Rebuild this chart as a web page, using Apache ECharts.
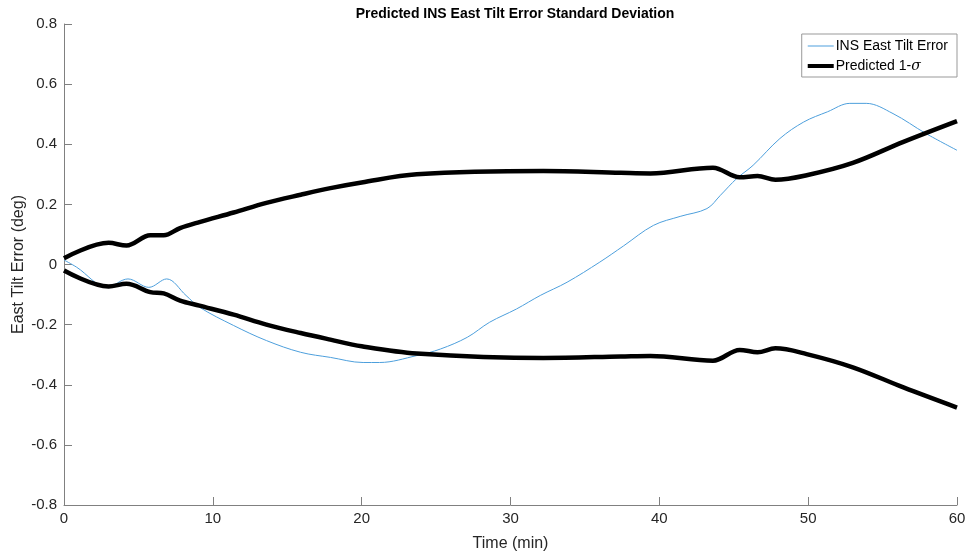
<!DOCTYPE html>
<html>
<head>
<meta charset="utf-8">
<script src="https://cdn.jsdelivr.net/npm/echarts@6/dist/echarts.min.js"></script>
<style>
  html, body { margin: 0; padding: 0; background: #fff; }
  #chart { width: 969px; height: 558px; }
</style>
</head>
<body>
<div id="chart"></div>
<script>
// INS east tilt error (blue)
const errTime = [0, 0.85, 2.9, 4.3, 5.7, 6.9, 8.2, 9.1, 11.4, 13.6, 15.9, 17.9, 20.1, 21.2, 23.7, 25.3, 27.1, 28.6, 30.4, 32.0, 33.8, 36.0, 37.6, 39.6, 41.4, 43.2, 44.1, 45.2, 46.3, 48.1, 49.7, 51.3, 52.8, 53.9, 55.7, 57.9, 60]
const errValues = [0.015, -0.009, -0.075, -0.048, -0.076, -0.048, -0.103, -0.142, -0.203, -0.253, -0.292, -0.309, -0.326, -0.326, -0.303, -0.281, -0.242, -0.192, -0.148, -0.103, -0.059, 0.008, 0.062, 0.13, 0.16, 0.186, 0.23, 0.286, 0.33, 0.419, 0.474, 0.508, 0.536, 0.536, 0.502, 0.436, 0.38]

// predicted 1-sigma bounds (black)
const sigTime = [0, 3.0, 4.2, 5.8, 6.7, 7.8, 9.1, 11.4, 13.6, 15.9, 17.9, 20.0, 23.7, 32.2, 37.4, 39.4, 43.6, 45.4, 46.6, 47.8, 49.9, 53.0, 56.4, 60]
const sigUpper = [0.021, 0.072, 0.063, 0.097, 0.097, 0.121, 0.141, 0.173, 0.205, 0.232, 0.254, 0.273, 0.300, 0.311, 0.305, 0.303, 0.322, 0.290, 0.294, 0.282, 0.297, 0.338, 0.408, 0.477]
const sigLower = [-0.020, -0.073, -0.064, -0.092, -0.096, -0.120, -0.137, -0.167, -0.200, -0.228, -0.250, -0.272, -0.296, -0.311, -0.306, -0.304, -0.320, -0.284, -0.292, -0.279, -0.298, -0.342, -0.409, -0.476]

const xTicks = [0, 10, 20, 30, 40, 50, 60]
const yTicks = [-0.8, -0.6, -0.4, -0.2, 0, 0.2, 0.4, 0.6, 0.8]

const pairs = (xs, ys) => xs.map((x, i) => [x, ys[i]])

const chart = echarts.init(document.getElementById('chart'))

const fontFamily = 'Liberation Sans, Arial, sans-serif'
const axisText = {
  color: '#262626',
  fontSize: 15,
  fontFamily
}

const option = {
  animation: false,
  title: {
    text: 'Predicted INS East Tilt Error Standard Deviation',
    left: 510,
    textAlign: 'center',
    top: 2,
    textStyle: {
      fontSize: 14,
      fontWeight: 'bold',
      color: '#000',
      fontFamily
    }
  },
  legend: {
    orient: 'vertical',
    right: 12,
    top: 34,
    padding: [5, 9, 4, 6],
    itemGap: 6,
    itemWidth: 26,
    itemHeight: 10,
    borderColor: '#999',
    borderWidth: 1,
    textStyle: {
      fontSize: 14,
      color: '#000',
      fontFamily,
      padding: [0, 0, 0, -3],
      rich: {
        s: { fontSize: 14, fontStyle: 'italic', fontFamily: 'DejaVu Serif, serif', color: '#000' }
      }
    },
    formatter: name => name === 'Predicted 1-σ' ? 'Predicted 1-{s|σ}' : name,
    data: [
      { name: 'INS East Tilt Error', icon: 'path://M0,4.5L26,4.5L26,5.5L0,5.5Z' },
      { name: 'Predicted 1-σ', icon: 'path://M0,3L26,3L26,7L0,7Z' }
    ]
  },
  grid: {
    left: 64,
    right: 12,
    top: 24,
    bottom: 53,
    outerBoundsMode: 'none'
  },
  xAxis: {
    type: 'value',
    min: 0,
    max: 60,
    interval: 10,
    name: 'Time (min)',
    nameLocation: 'middle',
    nameGap: 31,
    nameTextStyle: { ...axisText, fontSize: 16 },
    axisLine: { onZero: false, lineStyle: { color: '#808080', width: 1 } },
    axisTick: { inside: true, length: 8, lineStyle: { color: '#808080' } },
    axisLabel: { ...axisText, margin: 6, formatter: v => xTicks.includes(v) ? String(v) : '' },
    splitLine: { show: false }
  },
  yAxis: {
    type: 'value',
    min: -0.8,
    max: 0.8,
    interval: 0.2,
    name: 'East Tilt Error (deg)',
    nameLocation: 'middle',
    nameGap: 37,
    nameMoveOverlap: false,
    nameTextStyle: { ...axisText, fontSize: 16 },
    axisLine: { show: true, lineStyle: { color: '#808080', width: 1 } },
    axisTick: { show: true, inside: true, length: 8, lineStyle: { color: '#808080' } },
    axisLabel: {
      ...axisText,
      margin: 7,
      formatter: v => {
        const t = yTicks.find(k => Math.abs(k - v) < 1e-6)
        return t === undefined ? '' : (Math.abs(t) < 1e-9 ? '0' : String(t))
      }
    },
    splitLine: { show: false }
  },
  series: [
    {
      name: 'INS East Tilt Error',
      type: 'line',
      data: pairs(errTime, errValues),
      smooth: 0.35,
      showSymbol: false,
      lineStyle: { color: '#4d9fdc', width: 1 },
      itemStyle: { color: '#4d9fdc' },
      z: 2
    },
    {
      name: 'Predicted 1-σ',
      type: 'line',
      data: pairs(sigTime, sigUpper),
      smooth: 0.35,
      showSymbol: false,
      lineStyle: { color: '#000', width: 4.5 },
      itemStyle: { color: '#000' },
      z: 3
    },
    {
      name: 'Predicted 1-σ',
      type: 'line',
      data: pairs(sigTime, sigLower),
      smooth: 0.35,
      showSymbol: false,
      lineStyle: { color: '#000', width: 4.5 },
      itemStyle: { color: '#000' },
      z: 3
    }
  ]
}

chart.setOption(option)
</script>
</body>
</html>
